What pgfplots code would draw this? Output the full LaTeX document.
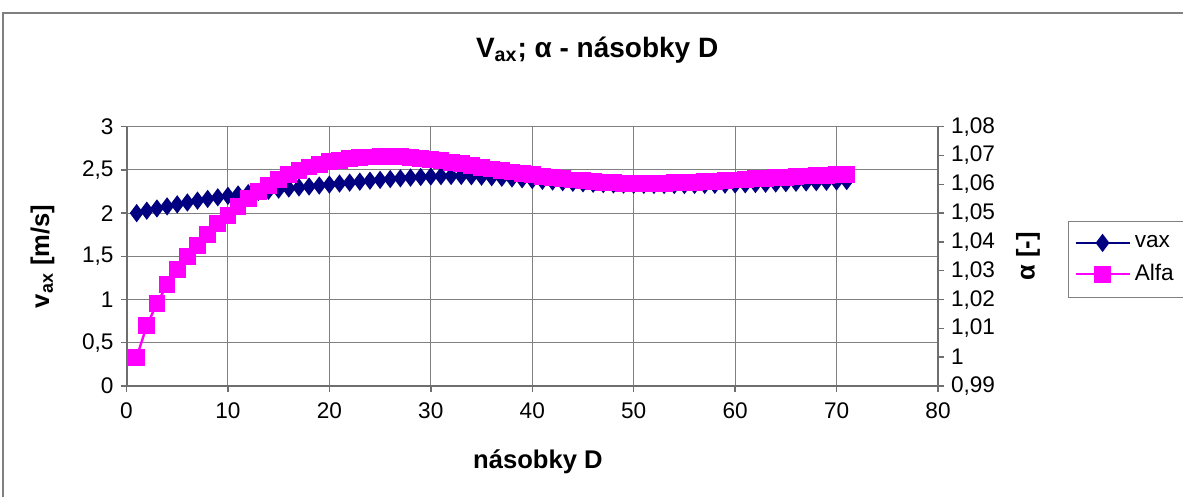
\documentclass[border=0pt]{standalone}
\usepackage{pgfplots}
\usepackage{pgfplotstable}
\pgfplotsset{compat=1.18}
\usepackage{fontspec}
\setmainfont{Liberation Sans}
\definecolor{navyblue}{RGB}{0,0,128}
\definecolor{magentaA}{RGB}{255,0,255}
\definecolor{gridgray}{RGB}{128,128,128}
\definecolor{axisgray}{RGB}{110,110,110}

\pgfplotstableread{
x v a
1 2.000 1.0000
2 2.028 1.0109
3 2.054 1.0187
4 2.078 1.0251
5 2.101 1.0303
6 2.123 1.0349
7 2.144 1.0387
8 2.164 1.0425
9 2.183 1.0463
10 2.200 1.0491
11 2.216 1.0523
12 2.231 1.0552
13 2.245 1.0575
14 2.259 1.0595
15 2.272 1.0616
16 2.285 1.0633
17 2.297 1.0648
18 2.308 1.0660
19 2.319 1.0670
20 2.330 1.0678
21 2.342 1.0684
22 2.353 1.0689
23 2.364 1.0693
24 2.375 1.0695
25 2.385 1.0697
26 2.394 1.0697
27 2.403 1.0696
28 2.411 1.0694
29 2.418 1.0691
30 2.424 1.0687
31 2.428 1.0682
32 2.430 1.0677
33 2.430 1.0671
34 2.427 1.0665
35 2.422 1.0659
36 2.416 1.0653
37 2.409 1.0648
38 2.401 1.0643
39 2.392 1.0638
40 2.383 1.0633
41 2.374 1.0628
42 2.366 1.0623
43 2.358 1.0619
44 2.351 1.0615
45 2.345 1.0612
46 2.340 1.0609
47 2.336 1.0607
48 2.333 1.0605
49 2.330 1.0604
50 2.328 1.0603
51 2.327 1.0603
52 2.326 1.0603
53 2.325 1.0604
54 2.325 1.0605
55 2.325 1.0606
56 2.326 1.0607
57 2.327 1.0609
58 2.328 1.0611
59 2.330 1.0613
60 2.332 1.0615
61 2.334 1.0617
62 2.337 1.0619
63 2.340 1.0621
64 2.343 1.0623
65 2.347 1.0625
66 2.351 1.0627
67 2.355 1.0629
68 2.359 1.0631
69 2.363 1.0632
70 2.367 1.0634
71 2.371 1.0635
}\chartdata

\pgfplotsset{
  every axis title shift=0pt,
  common/.style={
    at={(63.25pt,55.5pt)}, anchor=south west,
    scale only axis, width=405.75pt, height=129.65pt,
    xmin=0, xmax=80,
    tick align=outside, major tick length=3pt,
    axis line style={-, axisgray, line width=1pt},
    tick style={axisgray, line width=0.7pt},
    ticklabel style={font=\fontsize{11.3}{13}\selectfont},
    label style={font=\bfseries\fontsize{12.8}{14}\selectfont},
  }
}

\begin{document}
\begin{tikzpicture}
\useasboundingbox (0,0) rectangle (591.5pt,248.5pt);
\draw[gridgray, line width=0.7pt] (1.5pt,-10pt) rectangle (600pt,242pt);
\begin{axis}[common,
  axis x line*=bottom, axis y line*=left,
  xtick pos=lower, ytick pos=left,
  ymin=0, ymax=3,
  xtick={0,10,20,30,40,50,60,70,80},
  ytick={0,0.5,1,1.5,2,2.5,3},
  yticklabels={0,{0,5},1,{1,5},2,{2,5},3},
  xticklabels={0,10,20,30,40,50,60,70,80},
  xticklabel style={yshift=-2pt},
  xmajorgrids, ymajorgrids,
  grid style={gridgray, line width=0.5pt},
  xlabel={násobky D},
  xlabel style={at={(axis description cs:0.507,-0.293)}, anchor=center},
  ylabel={v\textsubscript{ax} [m/s]},
  ylabel style={at={(axis description cs:-0.1034,0.5)}, anchor=center},
  title={\textbf{V\textsubscript{ax}; α - násobky D}},
  title style={at={(axis description cs:0.58,1.297)}, anchor=center, font=\bfseries\fontsize{14}{16}\selectfont},
]
\addplot[navyblue, line width=1.2pt, mark=diamond*, mark size=3.6pt,
  mark options={solid, fill=navyblue, draw=navyblue}] table[x=x, y=v] {\chartdata};
\end{axis}
\begin{axis}[common,
  hide x axis,
  axis y line*=right,
  ytick pos=right, yticklabel pos=right,
  ymin=0.99, ymax=1.08,
  ytick={0.99,1.00,1.01,1.02,1.03,1.04,1.05,1.06,1.07,1.08},
  yticklabels={{0,99},1,{1,01},{1,02},{1,03},{1,04},{1,05},{1,06},{1,07},{1,08}},
  ylabel={α [-]},
  ylabel style={at={(axis description cs:1.111,0.5)}, anchor=center},
  legend style={at={(axis description cs:1.160,0.637)}, anchor=north west,
    draw=gridgray, line width=0.5pt, font=\fontsize{11.3}{13}\selectfont,
    inner xsep=3pt, inner ysep=5pt, row sep=3pt},
  legend cell align=left,
  legend image code/.code={\draw[mark repeat=2,mark phase=2,#1] plot coordinates {(0pt,0pt) (13.5pt,0pt) (27pt,0pt)};},
]
\addlegendimage{navyblue, line width=1.2pt, mark=diamond*, mark size=3.6pt, mark options={solid, fill=navyblue, draw=navyblue}}
\addlegendentry{vax}
\addplot[magentaA, line width=1.2pt, mark=square*, mark size=3.6pt,
  mark options={solid, fill=magentaA, draw=magentaA}] table[x=x, y=a] {\chartdata};
\addlegendentry{Alfa}
\end{axis}
\end{tikzpicture}
\end{document}
